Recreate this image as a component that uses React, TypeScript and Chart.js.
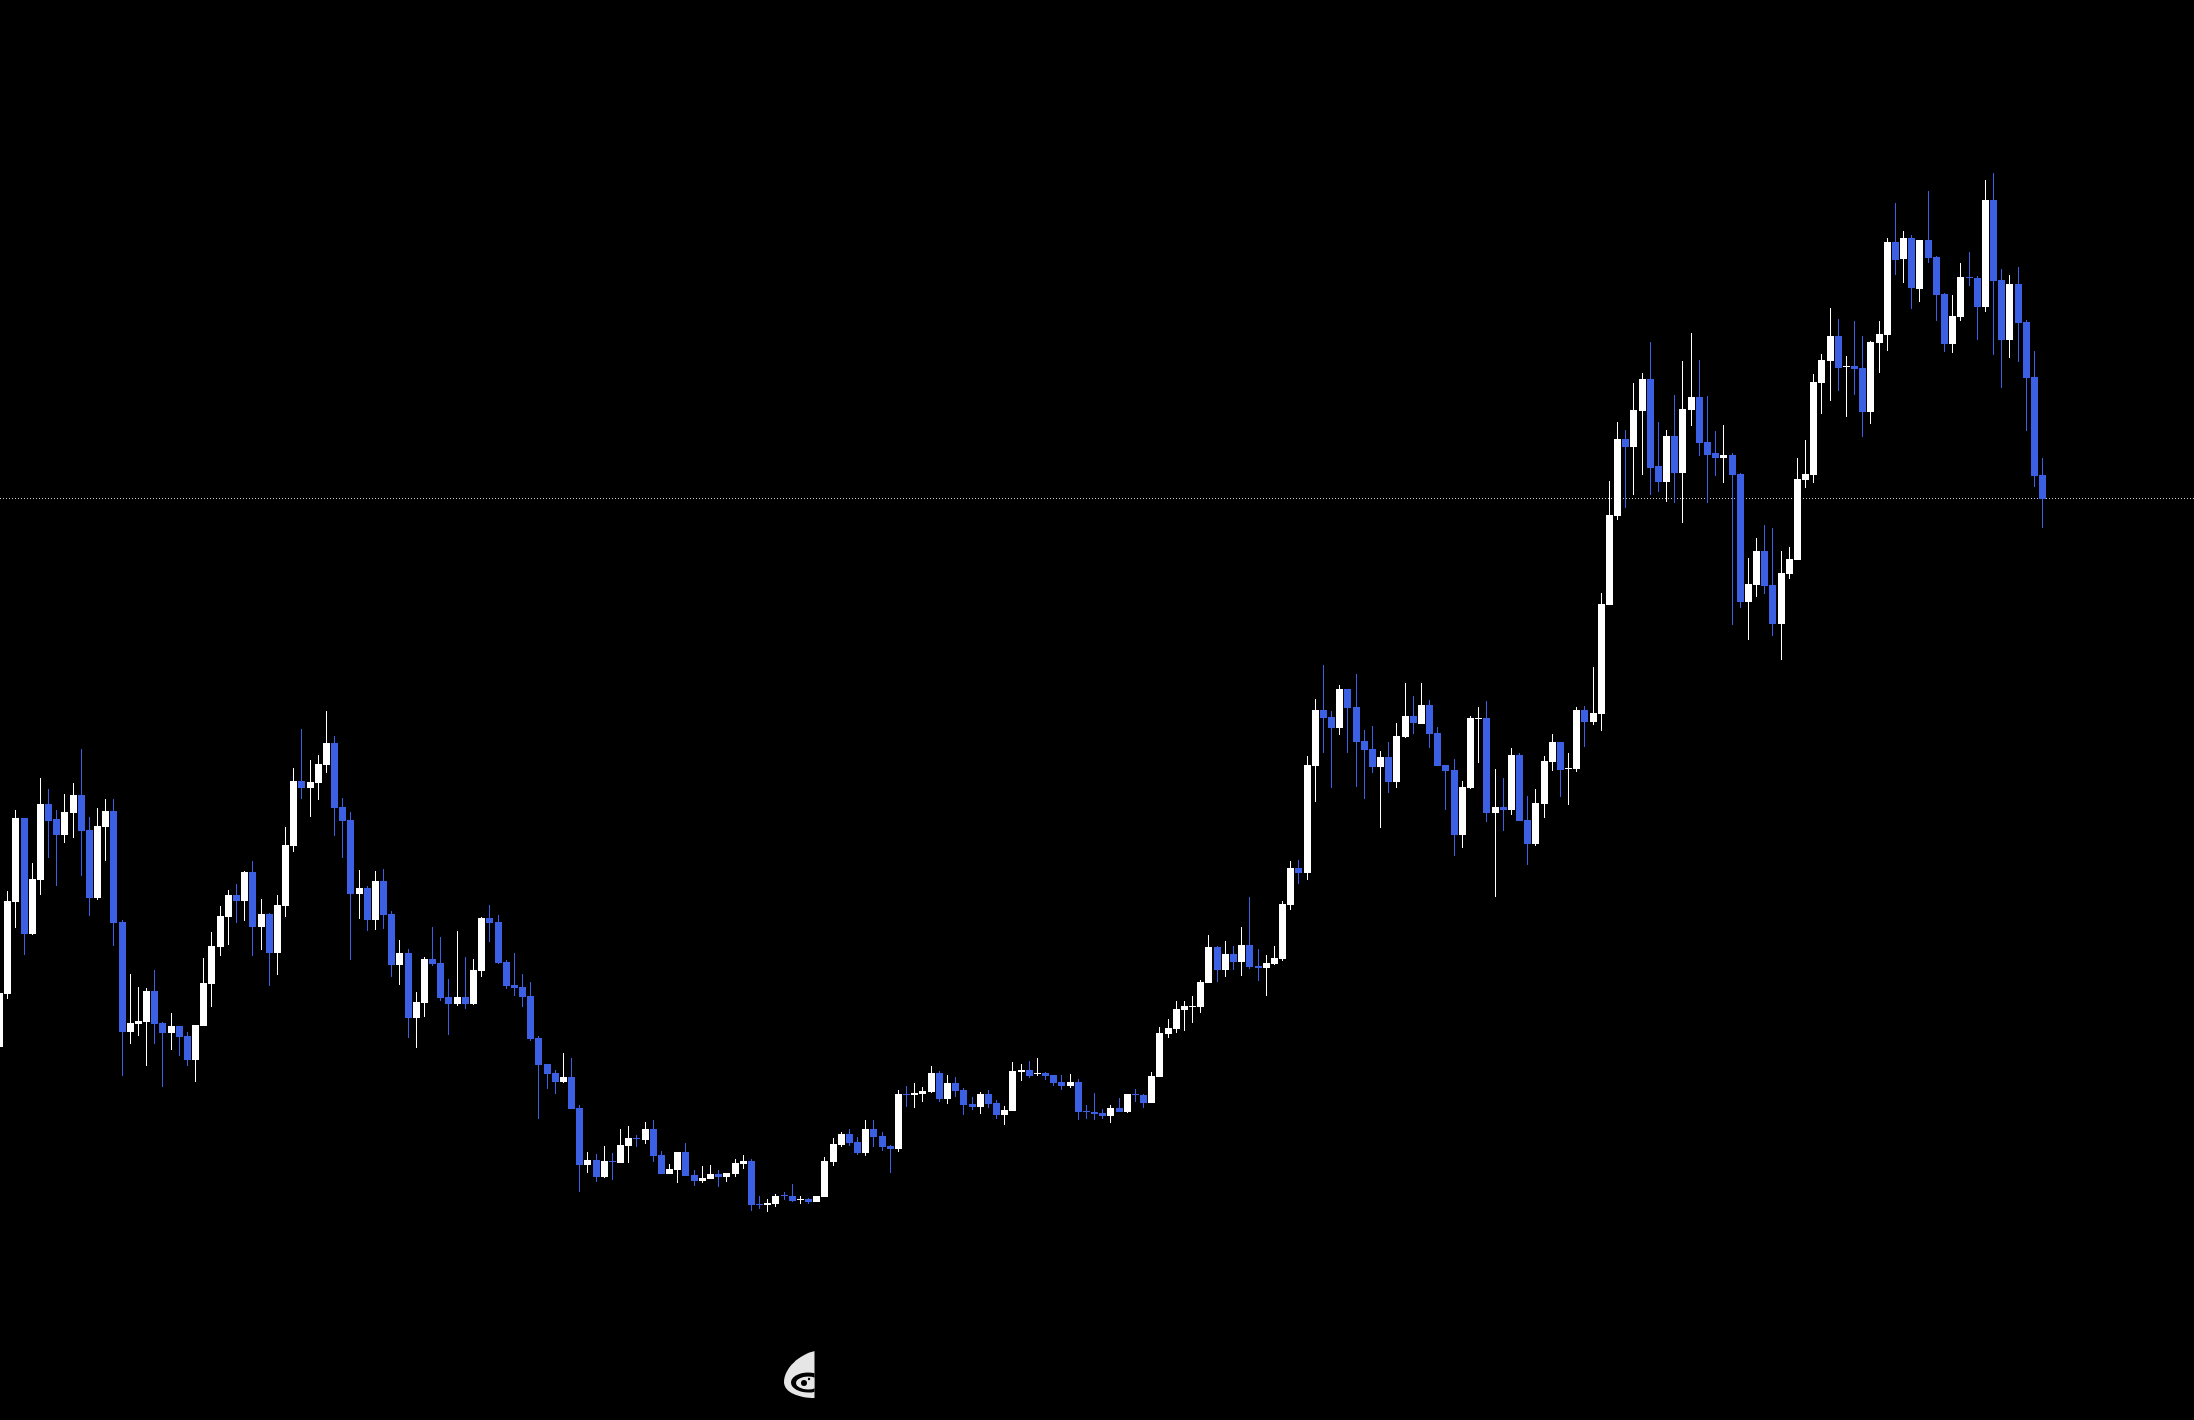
import React, { useEffect, useRef } from "react";
import { Chart, registerables } from "chart.js";

Chart.register(...registerables);

const opens = [373,426,518,602,486,540,616,601,585,607,625,590,522,593,609,498,388,396,398,429,397,387,394,384,360,394,436,473,503,525,519,548,493,506,467,514,574,639,632,637,655,677,613,600,526,532,500,539,506,455,467,402,417,461,457,423,416,423,416,449,502,498,458,435,433,424,382,356,347,338,343,312,255,260,243,259,257,274,282,280,291,265,246,250,268,245,239,241,246,243,246,256,259,216,215,216,225,224,220,221,218,223,258,275,286,278,267,291,284,274,271,326,325,326,328,347,321,337,330,316,313,326,317,305,309,348,350,346,347,345,338,334,338,309,308,307,304,312,308,326,325,317,343,386,391,410,413,413,437,473,450,466,458,475,454,452,456,461,515,552,547,654,710,703,692,731,713,679,671,653,663,638,683,704,696,715,687,655,650,585,632,701,702,607,613,610,665,600,576,616,658,678,651,651,710,698,706,815,904,981,973,1009,1041,954,938,984,947,1010,1023,978,967,962,965,946,818,835,869,835,796,846,860,940,945,1037,1059,1084,1053,1054,1052,1008,1077,1085,1178,1161,1182,1131,1180,1163,1126,1076,1103,1143,1142,1113,1220,1140,1080,1136,1098,1043,945];
const highs = [427,529,610,602,557,642,631,610,626,637,671,603,612,621,621,500,446,433,432,450,398,407,394,388,395,462,488,514,530,536,549,559,521,507,525,593,652,691,660,665,709,684,622,608,550,534,549,551,509,480,471,428,463,493,483,441,489,463,461,503,515,505,460,467,446,438,384,356,350,367,362,315,268,266,274,267,291,294,285,298,300,269,256,268,277,250,254,255,250,247,261,265,261,224,221,226,228,236,224,222,224,263,282,288,291,283,300,300,288,275,330,334,337,333,354,349,345,343,332,323,328,330,320,314,358,356,359,362,348,345,345,346,341,315,327,311,315,322,326,331,326,348,393,401,419,419,424,440,485,474,479,474,493,523,471,465,474,519,559,560,664,721,755,709,735,731,746,690,694,669,678,697,737,724,737,720,693,655,661,639,704,713,719,651,642,672,667,624,631,664,686,678,667,713,714,753,827,939,998,990,1037,1047,1078,998,990,1025,1059,1087,1060,1024,989,995,967,947,862,882,895,892,869,873,962,980,1046,1066,1112,1101,1064,1099,1084,1079,1099,1182,1217,1189,1185,1180,1229,1164,1127,1125,1157,1168,1144,1240,1247,1151,1145,1153,1100,1069,962];
const lows = [373,421,492,465,485,525,562,534,577,582,544,504,520,559,474,344,376,384,354,376,333,370,364,354,338,394,413,464,475,497,499,464,470,434,445,503,568,621,603,620,647,584,562,460,501,489,490,491,443,435,382,372,403,454,419,385,414,411,415,443,478,456,431,424,413,379,301,331,326,337,311,228,247,238,242,240,257,257,273,276,258,246,246,237,244,234,237,241,233,238,243,251,209,211,208,213,220,218,216,216,218,223,254,273,274,265,264,273,269,247,268,313,312,318,327,318,316,323,305,310,306,312,301,295,309,339,342,344,340,334,330,332,300,301,300,301,297,308,307,318,312,317,343,382,387,389,397,407,437,438,443,450,444,451,439,424,455,459,510,536,540,618,667,632,685,667,633,621,647,592,627,632,682,686,696,672,654,610,564,572,631,657,598,523,589,605,599,555,574,602,649,623,615,648,673,695,689,815,900,912,925,945,925,928,918,917,897,994,964,917,944,937,795,812,780,823,826,784,760,841,860,932,937,1006,1019,1029,1003,1025,983,996,1047,1069,1145,1137,1111,1118,1157,1099,1068,1067,1099,1134,1080,1108,1065,1032,1062,1058,989,933,892];
const closes = [427,519,602,486,541,616,599,585,608,625,589,522,594,609,497,388,397,399,429,396,387,394,383,360,395,437,474,504,525,519,548,493,506,467,515,575,639,632,638,656,677,612,599,526,532,500,539,505,455,467,402,418,461,456,422,416,423,416,450,502,497,457,434,432,423,381,355,346,338,343,311,255,260,243,259,258,275,282,281,291,264,246,251,268,244,239,242,246,243,247,257,259,215,215,217,224,224,219,221,218,224,259,276,286,277,267,291,283,273,271,326,325,327,329,347,321,337,329,315,313,326,316,305,310,349,350,344,347,344,337,334,338,308,308,306,304,312,308,326,325,317,344,387,392,411,414,414,438,473,450,466,458,475,453,452,457,462,516,552,547,655,710,702,692,731,712,678,670,653,663,638,684,704,697,715,686,654,649,585,633,702,702,607,613,610,665,599,576,617,659,678,650,652,710,698,707,816,905,981,973,1010,1041,952,938,984,947,1011,1023,977,965,962,965,945,818,836,869,834,796,847,861,941,946,1038,1060,1084,1052,1054,1051,1008,1078,1086,1178,1160,1182,1132,1180,1162,1125,1076,1104,1143,1142,1113,1220,1139,1080,1136,1097,1042,944,921];

const lastPriceLevel = 921.5;

const UP = "#ffffff";
const DOWN = "#3b60e4";
const X_MIN = 0.061;
const X_MAX = 268.53;

export default function App() {
  const ref = useRef<HTMLCanvasElement | null>(null);

  useEffect(() => {
    if (!ref.current) return;
    document.body.style.margin = "0";
    document.body.style.background = "#000";
    const n = Math.min(opens.length, highs.length, lows.length, closes.length);
    const idx = Array.from({ length: n }, (_, i) => i);
    const colors = idx.map((i) => (closes[i] >= opens[i] ? UP : DOWN));

    const snapPlugin = {
      id: "snapCandles",
      beforeDatasetsDraw(chart: any) {
        chart.data.datasets.forEach((d: any, di: number) => {
          if (d.type === "line") return;
          chart.getDatasetMeta(di).data.forEach((el: any) => {
            el.x = Math.floor(el.x) + 0.5;
          });
        });
      },
    };

    const logoPlugin = {
      id: "logo",
      afterDraw(chart: any) {
        const c = chart.ctx;
        c.save();
        c.beginPath();
        c.rect(770, 1340, 44.5, 65);
        c.clip();
        c.fillStyle = "#e6e6e6";
        c.beginPath();
        c.moveTo(815, 1351);
        c.bezierCurveTo(800, 1354, 784, 1368, 784, 1382);
        c.bezierCurveTo(784, 1392, 798, 1398, 815, 1398);
        c.closePath();
        c.fill();
        c.fillStyle = "#000";
        c.beginPath();
        c.ellipse(808, 1382.5, 17, 10, 0, 0, Math.PI * 2);
        c.fill();
        c.fillStyle = "#e6e6e6";
        c.beginPath();
        c.ellipse(808, 1383, 12, 6.5, 0, 0, Math.PI * 2);
        c.fill();
        c.fillStyle = "#000";
        c.beginPath();
        c.arc(804, 1383, 3, 0, Math.PI * 2);
        c.fill();
        c.beginPath();
        c.arc(809, 1379, 1.2, 0, Math.PI * 2);
        c.fill();
        c.restore();
      },
    };

    const chart = new Chart(ref.current, {
      type: "bar",
      data: {
        datasets: [
          {
            type: "line",
            data: [
              { x: X_MIN, y: lastPriceLevel },
              { x: X_MAX, y: lastPriceLevel },
            ],
            borderColor: "#cfcfcf",
            borderWidth: 1,
            borderDash: [1, 2],
            pointRadius: 0,
            order: 3,
          },
          {
            type: "bar",
            data: idx.map((i) => ({ x: i, y: [lows[i], highs[i]] })),
            backgroundColor: colors,
            barThickness: 1,
            grouped: false,
            inflateAmount: 0,
            order: 2,
          },
          {
            type: "bar",
            data: idx.map((i) => ({ x: i, y: [opens[i], closes[i]] })),
            backgroundColor: colors,
            barThickness: 7,
            grouped: false,
            inflateAmount: 0,
            order: 1,
          },
        ],
      } as any,
      options: {
        animation: false,
        responsive: false,
        maintainAspectRatio: false,
        layout: { padding: 0 },
        plugins: { legend: { display: false }, tooltip: { enabled: false } },
        scales: {
          x: { type: "linear", min: X_MIN, max: X_MAX, offset: false, display: false },
          y: { type: "linear", min: 0, max: 1420, display: false },
        },
      } as any,
      plugins: [snapPlugin, logoPlugin],
    });
    return () => chart.destroy();
  }, []);

  return (
    <div style={{ position: "fixed", inset: 0, background: "#000" }}>
      <canvas
        ref={ref}
        width={2194}
        height={1420}
        style={{ display: "block", width: 2194, height: 1420 }}
      />
    </div>
  );
}
